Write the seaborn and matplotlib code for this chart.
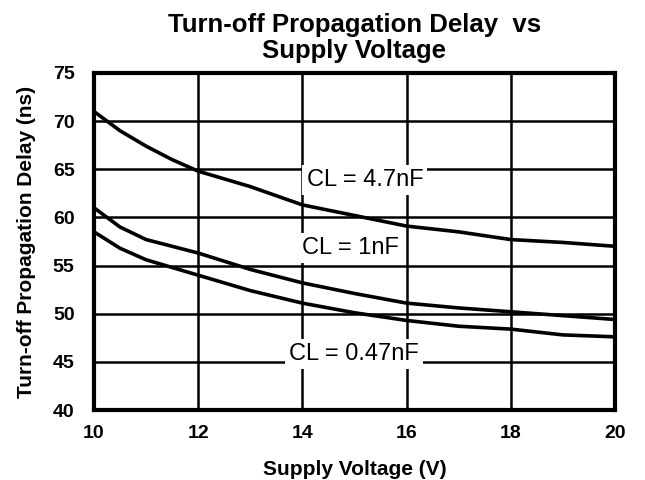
import numpy as np
import pandas as pd
import matplotlib
matplotlib.use("Agg")
import matplotlib.pyplot as plt
import seaborn as sns

voltage = [10, 10.5, 11, 11.5, 12, 13, 14, 15, 16, 17, 18, 19, 20]
delay_4p7 = [71.0, 69.0, 67.4, 66.0, 64.8, 63.2, 61.3, 60.2, 59.1, 58.5, 57.7, 57.4, 57.0]
delay_1 = [61.0, 59.0, 57.7, 57.0, 56.3, 54.6, 53.2, 52.1, 51.1, 50.6, 50.2, 49.8, 49.4]
delay_0p47 = [58.5, 56.8, 55.6, 54.8, 54.0, 52.4, 51.1, 50.1, 49.3, 48.7, 48.4, 47.8, 47.6]
labels = ["CL = 4.7nF", "CL = 1nF", "CL = 0.47nF"]
label_pos = [(14.08, 63.9), (14.0, 56.8), (13.74, 45.8)]
x_ticks = [10, 12, 14, 16, 18, 20]
y_ticks = [40, 45, 50, 55, 60, 65, 70, 75]

df = pd.DataFrame({
    "V": voltage * 3,
    "delay": delay_4p7 + delay_1 + delay_0p47,
    "series": [labels[0]] * len(voltage) + [labels[1]] * len(voltage) + [labels[2]] * len(voltage),
})

sns.set_style("white")
plt.rcParams['font.family'] = ['Liberation Sans', 'DejaVu Sans']
plt.rcParams['text.color'] = 'black'
plt.rcParams['axes.labelcolor'] = 'black'
plt.rcParams['xtick.color'] = 'black'
plt.rcParams['ytick.color'] = 'black'

fig = plt.figure(figsize=(6.45, 4.8), dpi=100)
ax = fig.add_axes([0.1457, 0.1458, 0.8078, 0.7022])

sns.lineplot(data=df, x="V", y="delay", hue="series",
             palette=["black", "black", "black"], linewidth=2.6,
             legend=False, ax=ax, zorder=3)

ax.set_xlim(10, 20)
ax.set_ylim(40, 75)
ax.set_xticks(x_ticks)
ax.set_yticks(y_ticks)
ax.grid(True, color="black", linewidth=1.8, zorder=1)
ax.set_axisbelow(True)
for s in ax.spines.values():
    s.set_linewidth(3)
    s.set_color("black")
    s.set_zorder(5)
ax.tick_params(axis="x", length=0, pad=11, labelsize=14)
ax.tick_params(axis="y", length=0, pad=14, labelsize=14)
for lbl in ax.get_xticklabels() + ax.get_yticklabels():
    lbl.set_fontweight("bold")

ax.set_xlabel("Supply Voltage (V)", fontsize=15, fontweight="bold", labelpad=13)
ax.set_ylabel("Turn-off Propagation Delay (ns)", fontsize=15, fontweight="bold", labelpad=12)
ax.set_title("Turn-off Propagation Delay  vs\nSupply Voltage", fontsize=18.5,
             fontweight="bold", pad=11, linespacing=1.08)

for txt, (x, y) in zip(labels, label_pos):
    ax.text(x, y, txt, fontsize=17, ha="left", va="center", zorder=4,
            bbox=dict(facecolor="white", edgecolor="none", pad=3))

fig.savefig("out.png", dpi=100)
